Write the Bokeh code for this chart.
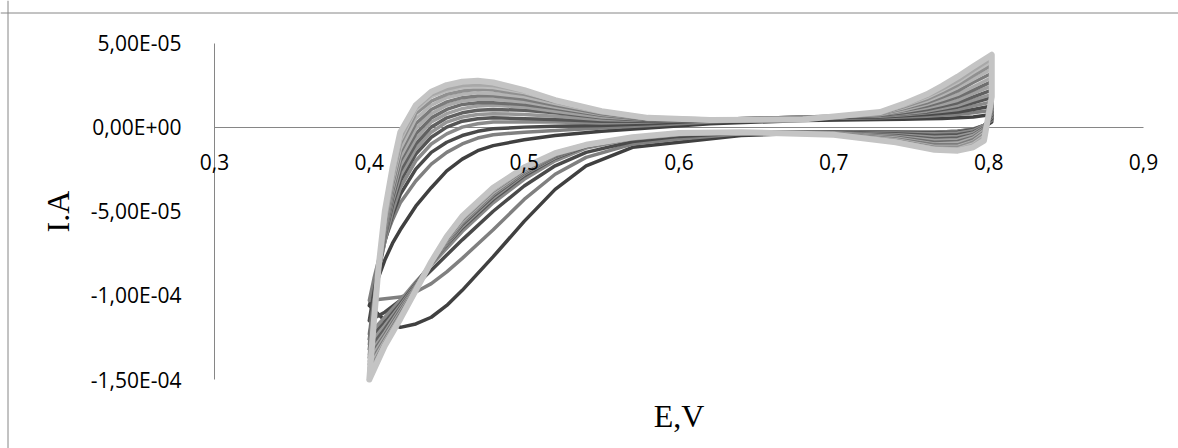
from bokeh.plotting import figure
from bokeh.models import FixedTicker, Span, Label, LinearAxis
from bokeh.embed import file_html
from bokeh.resources import INLINE

# ---- data (currents in units of 1e-5 A) ----
E_FWD = [0.400, 0.403, 0.406, 0.410, 0.415, 0.420, 0.430, 0.440, 0.450, 0.460, 0.470, 0.480,
         0.500, 0.520, 0.550, 0.580, 0.620, 0.680, 0.730, 0.745, 0.760, 0.770, 0.780, 0.790, 0.802]
E_REV = [0.802, 0.797, 0.790, 0.780, 0.765, 0.740, 0.700, 0.640, 0.600, 0.570, 0.540,
         0.520, 0.500, 0.480, 0.460, 0.450, 0.440, 0.430, 0.420, 0.410, 0.400]

C01 = [-10.6, -9.7, -8.9, -7.9, -6.9, -6.1, -4.7, -3.6, -2.6, -1.9, -1.4, -1.1, -0.75, -0.5, -0.25, -0.05, 0.2, 0.4, 0.45, 0.47, 0.5, 0.52, 0.55, 0.6, 0.75,
       0.3, 0.0, -0.15, -0.25, -0.3, -0.3, -0.3, -0.5, -0.9, -1.2, -2.3, -3.7, -5.6, -7.7, -9.7, -10.6, -11.3, -11.7, -11.9, -11.5, -10.6]
C02 = [-10.3, -9.0, -7.9, -6.7, -5.5, -4.5, -3.2, -2.2, -1.5, -1.0, -0.65, -0.45, -0.3, -0.2, -0.05, 0.1, 0.3, 0.5, 0.55, 0.6, 0.65, 0.7, 0.75, 0.85, 1.0,
       0.4, 0.1, -0.1, -0.25, -0.3, -0.3, -0.3, -0.4, -0.7, -1.0, -1.8, -2.8, -4.3, -6.1, -7.8, -8.6, -9.3, -9.8, -10.1, -10.2, -10.3]
C03 = [-11.5, -9.8, -8.4, -6.8, -5.2, -4.0, -2.5, -1.5, -0.9, -0.5, -0.25, -0.1, 0.0, 0.05, 0.1, 0.2, 0.4, 0.55, 0.6, 0.67, 0.75, 0.82, 0.9, 1.05, 1.25,
       0.5, 0.1, -0.15, -0.3, -0.35, -0.3, -0.3, -0.35, -0.55, -0.85, -1.5, -2.3, -3.5, -5.0, -6.7, -7.6, -8.5, -9.4, -10.3, -11.0, -11.5]
C04 = [-12.3, -10.3, -8.6, -6.8, -5.0, -3.6, -2.0, -1.0, -0.4, 0.0, 0.2, 0.3, 0.3, 0.3, 0.25, 0.3, 0.45, 0.6, 0.65, 0.74, 0.85, 0.95, 1.05, 1.25, 1.5,
       0.6, 0.1, -0.2, -0.35, -0.4, -0.35, -0.3, -0.3, -0.45, -0.7, -1.25, -2.0, -3.1, -4.5, -6.2, -7.2, -8.2, -9.2, -10.3, -11.3, -12.3]
C05 = [-12.6, -10.4, -8.5, -6.5, -4.6, -3.2, -1.6, -0.6, 0.0, 0.35, 0.5, 0.55, 0.5, 0.45, 0.35, 0.35, 0.45, 0.6, 0.7, 0.79, 0.9, 1.04, 1.2, 1.45, 1.75,
       0.7, 0.0, -0.3, -0.45, -0.5, -0.4, -0.3, -0.3, -0.4, -0.65, -1.15, -1.85, -2.9, -4.3, -6.0, -7.0, -8.1, -9.3, -10.5, -11.6, -12.6]
C06 = [-12.9, -10.5, -8.5, -6.4, -4.4, -2.9, -1.3, -0.3, 0.3, 0.6, 0.75, 0.8, 0.75, 0.65, 0.45, 0.4, 0.45, 0.6, 0.7, 0.81, 0.95, 1.12, 1.3, 1.6, 1.95,
       0.8, 0.0, -0.35, -0.55, -0.6, -0.45, -0.35, -0.3, -0.4, -0.65, -1.1, -1.8, -2.8, -4.2, -5.9, -6.95, -8.1, -9.35, -10.6, -11.8, -12.9]
C07 = [-13.2, -10.7, -8.6, -6.3, -4.2, -2.6, -1.0, 0.0, 0.55, 0.85, 1.0, 1.05, 1.0, 0.85, 0.55, 0.4, 0.45, 0.55, 0.7, 0.86, 1.05, 1.24, 1.45, 1.8, 2.2,
       0.9, -0.05, -0.45, -0.65, -0.7, -0.5, -0.35, -0.3, -0.4, -0.6, -1.1, -1.75, -2.75, -4.1, -5.8, -6.9, -8.1, -9.4, -10.7, -12.0, -13.2]
C08 = [-13.5, -10.8, -8.6, -6.2, -4.0, -2.3, -0.7, 0.3, 0.8, 1.1, 1.25, 1.3, 1.2, 0.95, 0.6, 0.45, 0.45, 0.55, 0.75, 0.93, 1.15, 1.36, 1.6, 2.0, 2.45,
       1.0, -0.1, -0.5, -0.75, -0.8, -0.55, -0.35, -0.3, -0.38, -0.6, -1.1, -1.7, -2.7, -4.0, -5.7, -6.85, -8.1, -9.45, -10.8, -12.2, -13.5]
C09 = [-13.7, -10.9, -8.6, -6.1, -3.8, -2.0, -0.4, 0.55, 1.05, 1.35, 1.45, 1.45, 1.35, 1.1, 0.7, 0.45, 0.45, 0.5, 0.75, 0.98, 1.25, 1.5, 1.8, 2.2, 2.7,
       1.1, -0.15, -0.6, -0.85, -0.9, -0.6, -0.4, -0.3, -0.38, -0.6, -1.1, -1.7, -2.65, -3.95, -5.65, -6.8, -8.1, -9.5, -10.9, -12.35, -13.7]
C10 = [-13.9, -11.0, -8.6, -6.0, -3.6, -1.8, -0.1, 0.8, 1.3, 1.55, 1.65, 1.65, 1.5, 1.2, 0.75, 0.5, 0.45, 0.5, 0.75, 1.02, 1.35, 1.63, 1.95, 2.4, 2.95,
       1.2, -0.2, -0.65, -0.95, -1.0, -0.65, -0.4, -0.3, -0.37, -0.6, -1.1, -1.65, -2.6, -3.9, -5.6, -6.75, -8.05, -9.5, -11.0, -12.45, -13.9]
C11 = [-14.1, -11.1, -8.6, -5.9, -3.4, -1.5, 0.2, 1.05, 1.5, 1.75, 1.85, 1.85, 1.65, 1.3, 0.8, 0.5, 0.45, 0.5, 0.8, 1.1, 1.45, 1.78, 2.15, 2.65, 3.2,
       1.3, -0.3, -0.75, -1.05, -1.05, -0.7, -0.4, -0.3, -0.36, -0.6, -1.05, -1.65, -2.55, -3.8, -5.5, -6.7, -8.05, -9.55, -11.1, -12.6, -14.1]
C12 = [-14.3, -11.2, -8.5, -5.7, -3.2, -1.3, 0.5, 1.3, 1.75, 1.95, 2.05, 2.0, 1.8, 1.4, 0.85, 0.5, 0.45, 0.5, 0.8, 1.15, 1.55, 1.92, 2.35, 2.85, 3.45,
       1.4, -0.35, -0.85, -1.15, -1.15, -0.75, -0.42, -0.3, -0.36, -0.6, -1.05, -1.6, -2.5, -3.75, -5.45, -6.65, -8.05, -9.6, -11.2, -12.7, -14.3]
C13 = [-14.5, -11.3, -8.5, -5.6, -3.0, -1.0, 0.8, 1.55, 1.95, 2.15, 2.25, 2.2, 1.95, 1.5, 0.9, 0.5, 0.45, 0.45, 0.8, 1.2, 1.65, 2.05, 2.5, 3.05, 3.7,
       1.5, -0.45, -0.9, -1.2, -1.2, -0.8, -0.43, -0.3, -0.35, -0.6, -1.05, -1.6, -2.5, -3.7, -5.4, -6.6, -8.0, -9.6, -11.25, -12.8, -14.5]
C14 = [-14.7, -11.4, -8.4, -5.5, -2.9, -0.8, 1.0, 1.8, 2.15, 2.35, 2.4, 2.35, 2.05, 1.55, 0.9, 0.5, 0.45, 0.45, 0.85, 1.27, 1.75, 2.18, 2.65, 3.25, 3.9,
       1.6, -0.55, -1.0, -1.3, -1.25, -0.85, -0.44, -0.3, -0.35, -0.6, -1.05, -1.55, -2.45, -3.65, -5.35, -6.55, -8.0, -9.65, -11.3, -12.9, -14.7]
C15 = [-14.85, -11.4, -8.4, -5.3, -2.7, -0.6, 1.15, 1.95, 2.3, 2.5, 2.55, 2.5, 2.15, 1.6, 0.95, 0.55, 0.45, 0.45, 0.85, 1.32, 1.85, 2.3, 2.8, 3.4, 4.1,
       1.7, -0.65, -1.1, -1.35, -1.3, -0.88, -0.45, -0.3, -0.35, -0.6, -1.05, -1.55, -2.4, -3.6, -5.3, -6.5, -8.0, -9.7, -11.35, -12.95, -14.85]
C16 = [-15.0, -11.5, -8.3, -5.0, -2.4, -0.3, 1.3, 2.1, 2.5, 2.7, 2.75, 2.65, 2.2, 1.6, 0.95, 0.55, 0.42, 0.45, 0.9, 1.38, 1.95, 2.45, 3.0, 3.6, 4.3,
       1.8, -0.8, -1.2, -1.4, -1.35, -0.9, -0.45, -0.3, -0.35, -0.6, -1.05, -1.55, -2.4, -3.6, -5.3, -6.5, -8.0, -9.7, -11.4, -13.0, -15.0]

CYCLES = [C01, C02, C03, C04, C05, C06, C07, C08, C09, C10, C11, C12, C13, C14, C15, C16]
COLORS = ["#404040", "#808080", "#4a4a4a", "#8a8a8a", "#555555", "#969696", "#606060", "#a0a0a0",
          "#6e6e6e", "#aaaaaa", "#7c7c7c", "#b4b4b4", "#909090", "#bcbcbc", "#a8a8a8", "#c4c4c4"]
WIDTHS = [3.5] * 14 + [4.5, 6]

X_TICKS = [0.3, 0.4, 0.5, 0.6, 0.7, 0.8, 0.9]
X_LABELS = ["0,3", "0,4", "0,5", "0,6", "0,7", "0,8", "0,9"]
Y_TICKS = [5e-05, 0.0, -5e-05, -1e-04, -1.5e-04]
Y_LABELS = ["5,00E-05", "0,00E+00", "-5,00E-05", "-1,00E-04", "-1,50E-04"]

AX = "#868686"
W, H = 1178, 448

# plot area: 0.3..0.9 V spans px 214..1143; 5e-5..-1.5e-4 A spans px 42.5..379
PXV = (1143 - 214) / 0.6
PXA = (379 - 42.5) / 2e-4
X0 = 0.3 - 214 / PXV
X1 = 0.3 + (W - 214) / PXV
Y1 = 5e-5 + 42.5 / PXA
Y0 = 5e-5 - (H - 42.5) / PXA

p = figure(width=W, height=H, output_backend="svg", toolbar_location=None,
           x_range=(X0, X1), y_range=(Y0, Y1),
           min_border_left=0, min_border_right=0, min_border_top=0, min_border_bottom=0)
p.outline_line_color = None
p.grid.grid_line_color = None
p.background_fill_color = "white"
p.border_fill_color = "white"

# y axis crossing at x = 0.3
ya = p.yaxis[0]
ya.level = "underlay"
ya.fixed_location = 0.3
ya.bounds = (-1.5e-4, 5e-5)
ya.ticker = FixedTicker(ticks=Y_TICKS)
ya.major_label_overrides = {t: s for t, s in zip(Y_TICKS, Y_LABELS)}
ya.axis_line_color = AX
ya.major_tick_line_color = None
ya.minor_tick_line_color = None
ya.major_label_standoff = 27
ya.major_label_text_font = "Open Sans"
ya.major_label_text_font_size = "21px"
ya.major_label_text_color = "black"
ya.axis_label = "I.A"
ya.axis_label_text_font = "Liberation Serif"
ya.axis_label_text_font_size = "32px"
ya.axis_label_text_font_style = "normal"
ya.axis_label_text_color = "black"
ya.axis_label_standoff = 12

# x axis line crossing at y = 0 (drawn beneath the curves)
xa = p.xaxis[0]
xa.level = "underlay"
xa.fixed_location = 0
xa.bounds = (0.3, 0.9)
xa.ticker = FixedTicker(ticks=[])
xa.axis_line_color = AX
xa.major_tick_line_color = None
xa.minor_tick_line_color = None

# x tick labels at y = 0 (drawn above the curves)
xl = LinearAxis(fixed_location=0, bounds=(0.3, 0.9), ticker=FixedTicker(ticks=X_TICKS),
                major_label_overrides={t: s for t, s in zip(X_TICKS, X_LABELS)},
                axis_line_color=None, major_tick_line_color=None, minor_tick_line_color=None,
                major_label_standoff=21, major_label_text_font="Open Sans",
                major_label_text_font_size="21px", major_label_text_color="black")
p.add_layout(xl, "below")

for cyc, col, w in zip(CYCLES, COLORS, WIDTHS):
    p.line(x=E_FWD + E_REV, y=[v * 1e-5 for v in cyc], line_color=col, line_width=w,
           line_join="round", line_cap="round")

# x-axis title at the bottom of the chart
p.add_layout(Label(x=0.6, y=5e-5 - (415 - 42.5) / PXA, text="E,V",
                   text_align="center", text_baseline="alphabetic",
                   text_font="Liberation Serif", text_font_size="32px", text_color="black"))

# chart-area border (left and top edges)
p.add_layout(Span(location=X0 + 7.5 / PXV, dimension="height", line_color=AX, line_width=1))
p.add_layout(Span(location=Y1 - 12.5 / PXA, dimension="width", line_color=AX, line_width=1))

open("out.html", "w").write(file_html(p, INLINE))
